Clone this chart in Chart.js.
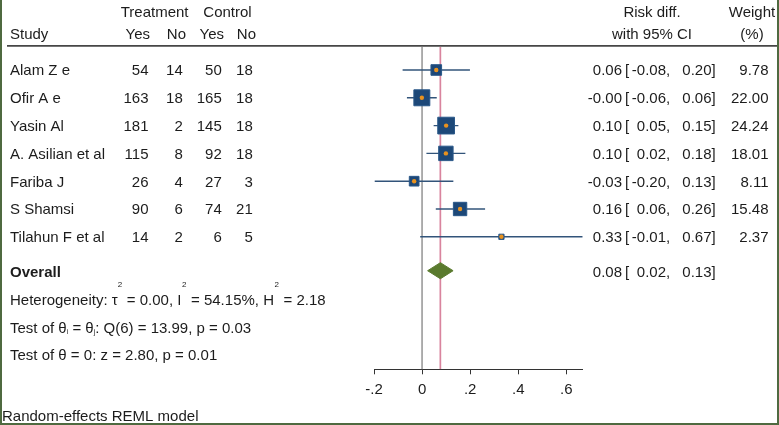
<!DOCTYPE html>
<html><head><meta charset="utf-8">
<script src="https://cdn.jsdelivr.net/npm/chart.js@4.4.1/dist/chart.umd.min.js"></script>
<style>html,body{margin:0;padding:0;background:#fff;}#wrap{position:relative;width:779px;height:425px;}</style>
</head><body><div id="wrap"><canvas id="c"></canvas></div>
<script>
// ---- data ----
const studies  = ["Alam Z e","Ofir A e","Yasin Al","A. Asilian et al","Fariba J","S Shamsi","Tilahun F et al"];
const treatYes = [54,163,181,115,26,90,14];
const treatNo  = [14,18,2,8,4,6,2];
const ctrlYes  = [50,165,145,92,27,74,6];
const ctrlNo   = [18,18,18,18,3,21,5];
const riskDiff = [0.059,-0.001,0.100,0.099,-0.033,0.158,0.330];
const ciLow    = [-0.081,-0.063,0.048,0.018,-0.197,0.057,-0.008];
const ciHigh   = [0.199,0.061,0.151,0.180,0.130,0.262,0.668];
const weights  = [9.78,22.00,24.24,18.01,8.11,15.48,2.37];
const overallEst = 0.076, overallLow = 0.023, overallHigh = 0.129;
const xTicks = [-0.2,0,0.2,0.4,0.6];
const xTickLabels = ["-.2","0",".2",".4",".6"];

// ---- layout ----
const W = 779, H = 425;
const plotLeft = 374, plotRight = 582.7, plotTop = 47, plotBottom = 369.3;
const yMin = -0.827, yMax = 10.766;
const overallRow = 7.22;
const FONT = '"Liberation Sans", Arial, sans-serif';
const F15 = '15px ' + FONT;
const TXT = '#1c1c1c';

const xMin = Math.min(-0.2, ...ciLow);
const xMax = Math.max(...ciHigh);

function side(w){ return 3.4*Math.sqrt(w); }
function f2(v){ return v.toFixed(2); }

const datasets = [];
// orange centre dots
datasets.push({type:'scatter', data: studies.map((s,i)=>({x:riskDiff[i],y:i})),
  pointStyle:'circle', pointRadius:2.2, pointHoverRadius:2.2, backgroundColor:'#e8921f', borderWidth:0, order:1});
// weighted squares
datasets.push({type:'scatter', data: studies.map((s,i)=>({x:riskDiff[i],y:i})),
  pointStyle:'rect', pointRadius: c => side(weights[c.dataIndex])/Math.SQRT2,
  pointHoverRadius: c => side(weights[c.dataIndex])/Math.SQRT2,
  backgroundColor:'#1d4878', borderColor:'#2a5889', borderWidth:1, order:2});
// CI lines
studies.forEach((s,i)=>{
  datasets.push({type:'scatter', showLine:true, data:[{x:ciLow[i],y:i},{x:ciHigh[i],y:i}],
    borderColor:'#32547a', borderWidth:1.4, pointRadius:0, order:3});
});
// overall diamond
const dh = 0.29;
datasets.push({type:'line', data:[{x:overallLow,y:overallRow},{x:overallEst,y:overallRow-dh},{x:overallHigh,y:overallRow},{x:overallEst,y:overallRow+dh},{x:overallLow,y:overallRow}],
  borderColor:'#5a7a2e', backgroundColor:'#5a7a2e', borderWidth:1, pointRadius:0, fill:'shape', tension:0, order:4});
// overall reference line
datasets.push({type:'scatter', showLine:true, data:[{x:overallEst,y:yMin},{x:overallEst,y:yMax}],
  borderColor:'#d9849e', borderWidth:1.7, pointRadius:0, order:9});
// no-effect line
datasets.push({type:'scatter', showLine:true, data:[{x:0,y:yMin},{x:0,y:yMax}],
  borderColor:'#a3a3a3', borderWidth:1, pointRadius:0, order:10});

function seq(ctx, parts, x, y){
  ctx.textAlign='left';
  parts.forEach(p=>{
    ctx.font = p[1] + 'px ' + FONT;
    x += (p[3]||0);
    ctx.fillText(p[0], x, y + p[2]);
    x += ctx.measureText(p[0]).width;
  });
}

const textPlugin = {
  id:'forestText',
  afterDraw(chart){
    const ctx = chart.ctx, ys = chart.scales.y;
    ctx.save();
    ctx.fillStyle = TXT;
    ctx.font = F15;
    const t = (s,x,y,a)=>{ ctx.textAlign=a||'left'; ctx.fillText(s,x,y); };
    // header
    t('Treatment',120.7,17.3); t('Control',203.3,17.3);
    t('Study',10,39); t('Yes',150,39,'right'); t('No',186,39,'right'); t('Yes',224,39,'right'); t('No',256,39,'right');
    t('Risk diff.',652,17.3,'center'); t('with 95% CI',652,39,'center');
    t('Weight',752,17.3,'center'); t('(%)',752,39,'center');
    // header rule
    ctx.fillStyle='#1a1a1a'; ctx.fillRect(7,45.2,770,1.4); ctx.fillStyle=TXT;
    const ciText = (e,l,h,y)=>{
      t(f2(e),622,y,'right'); t('[',625,y);
      t(f2(l),666,y,'right'); t(',',666,y);
      t(f2(h),711.5,y,'right'); t(']',711.5,y);
    };
    // rows
    studies.forEach((s,i)=>{
      const y = ys.getPixelForValue(i) + 5.5;
      t(s,10,y);
      t(String(treatYes[i]),148.5,y,'right'); t(String(treatNo[i]),182.8,y,'right');
      t(String(ctrlYes[i]),221.8,y,'right'); t(String(ctrlNo[i]),252.8,y,'right');
      ciText(riskDiff[i],ciLow[i],ciHigh[i],y);
      t(f2(weights[i]),768.5,y,'right');
    });
    // overall
    const yo = ys.getPixelForValue(overallRow) + 6.5;
    ctx.font = 'bold 15px ' + FONT; t('Overall',10,yo); ctx.font = F15;
    ciText(overallEst,overallLow,overallHigh,yo);
    // stats
    const y1 = ys.getPixelForValue(8.25)+5.5, y2 = ys.getPixelForValue(9.25)+5.5, y3 = ys.getPixelForValue(10.25)+5.5;
    seq(ctx,[['Heterogeneity: \u03C4',15,0],['2',8,-17.5,0],[' = 0.00, I',15,0,0.5],['2',8,-17.5,0.5],[' = 54.15%, H',15,0,0.5],['2',8,-17.5,0.5],[' = 2.18',15,0,0.5]],10,y1);
    seq(ctx,[['Test of \u03B8',15,0],['i',7,1],[' = \u03B8',15,0],['j',7,1],[': Q(6) = 13.99, p = 0.03',15,0]],10,y2);
    seq(ctx,[['Test of \u03B8 = 0: z = 2.80, p = 0.01',15,0]],10,y3);
    ctx.font = F15; t('Random-effects REML model',2,420.7);
    // frame
    ctx.fillStyle = '#4f6a40';
    ctx.fillRect(0,0,2,H); ctx.fillRect(W-2,0,2,H); ctx.fillRect(0,H-2,W,2);
    ctx.restore();
  }
};

new Chart(document.getElementById('c'), {
  type:'scatter',
  data:{datasets},
  options:{
    responsive:true, maintainAspectRatio:false, animation:false,
    events:[],
    layout:{padding:{left:plotLeft, right:W-plotRight, top:plotTop, bottom:H-plotBottom-40}},
    plugins:{legend:{display:false}, tooltip:{enabled:false}},
    scales:{
      x:{type:'linear', position:'bottom', min:xMin, max:xMax,
        afterBuildTicks: s => { s.ticks = xTicks.map(v=>({value:v})); },
        afterFit: s => { s.height = 40; },
        ticks:{autoSkip:false, maxRotation:0, padding:7, color:TXT,
          font:{family:FONT, size:15},
          callback:(v)=>{ const k = xTicks.findIndex(t=>Math.abs(t-v)<1e-9); return k>=0 ? xTickLabels[k] : ''; }},
        grid:{drawOnChartArea:false, drawTicks:true, tickLength:5, color:'#333', lineWidth:1},
        border:{display:true, color:'#333', width:1}
      },
      y:{type:'linear', display:false, reverse:true, min:yMin, max:yMax}
    }
  },
  plugins:[textPlugin]
});
</script></body></html>
